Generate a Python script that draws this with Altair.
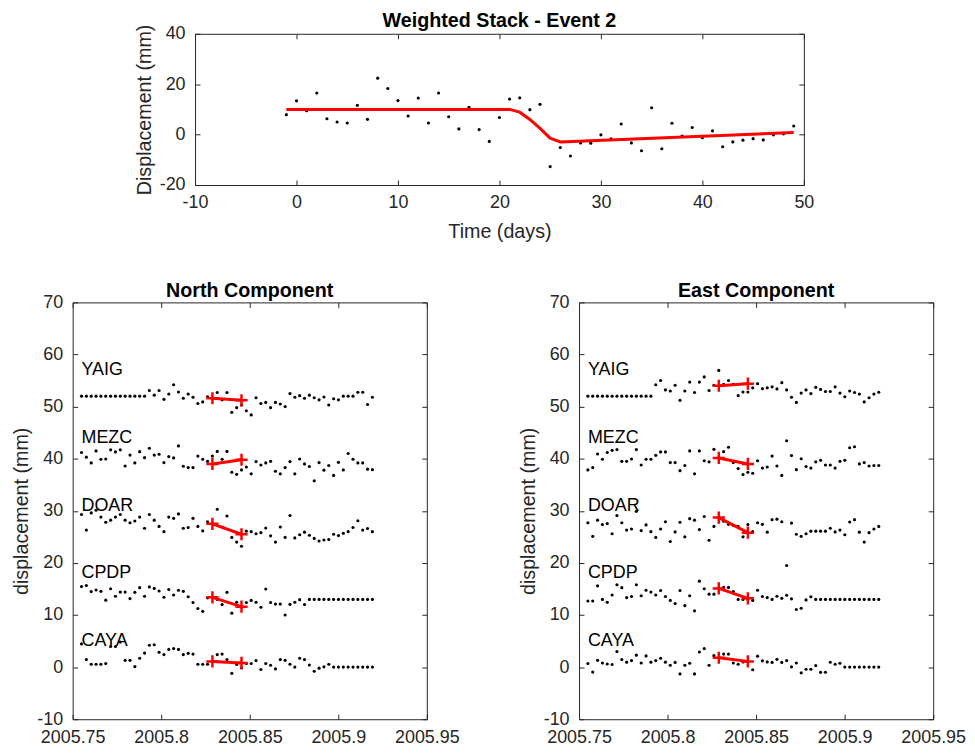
import altair as alt
import pandas as pd

FONT = "Liberation Sans"
AXC = "#262626"

# ---------------- data: weighted stack (top panel) ----------------
stack_days = list(range(-1, 50))
stack_vals = [7.9, 13.4, 9.5, 16.5, 6.3, 5.0, 4.6, 11.6, 6.05, 22.4,
              18.3, 13.5, 7.4, 14.5, 4.6, 16.5, 7.1, 2.25, 10.8, 2.0,
              -2.7, 6.8, 14.1, 14.6, 9.9, 12.0, -12.7, -5.1, -8.5, -3.3,
              -3.4, -0.1, -1.7, 4.2, -3.3, -6.4, 10.65, -5.6, 4.5, -0.6,
              2.8, -1.2, 1.5, -4.8, -2.9, -2.2, -1.6, -2.1, -0.1, 0.3, 3.4]
model_days = [-1, 21, 22, 23, 24, 25, 26, 49]
model_vals = [10.0, 10.0, 8.9, 6.0, 2.5, -1.4, -2.9, 0.8]

# ---------------- data: station time series (bottom panels) ----------------
stations = ["YAIG", "MEZC", "DOAR", "CPDP", "CAYA"]
label_y = [57, 44, 31, 18, 5]
start_year = 2005.755

north = {
    "YAIG": [52.0, 52.0, 52.0, 52.0, 52.0, 52.0, 52.0, 52.0, 52.0, 52.0,
             52.0, 52.0, 52.0, 52.0, 53.1, 52.2, 53.1, 51.4, 52.4, 54.2,
             52.8, 51.6, 52.4, 51.8, 50.6, 50.9, 51.9, 51.5, 52.7, 51.3,
             52.7, 48.9, 49.8, 50.3, 49.2, 48.4, 51.7, 50.6, 50.8, 49.8,
             50.8, 50.5, 50.0, 52.5, 51.8, 52.1, 51.6, 52.2, 51.7, 51.3,
             51.85, 50.3, 51.5, 51.3, 52.0, 52.0, 52.0, 52.75, 52.75, 50.4,
             51.8],
    "MEZC": [41.2, 40.3, 39.2, 41.5, 39.9, 39.95, 41.7, 41.3, 41.7, 38.6,
             40.7, 39.2, 41.35, 40.2, 42.0, 40.7, 40.85, 39.25, 40.4, 40.15,
             42.45, 38.55, 38.3, 38.3, 40.5, 39.9, 39.5, 40.5, 41.4, 39.9,
             41.4, 37.4, 37.0, 37.85, 38.4, 37.1, 39.45, 38.8, 39.2, 39.5,
             37.6, 37.1, 38.3, 39.45, 37.1, 39.95, 39.0, 38.5, 35.75, 39.25,
             37.8, 38.7, 36.8, 39.3, 37.85, 41.0, 39.9, 39.2, 39.2, 38.0,
             37.9],
    "DOAR": [29.3, 26.3, 29.6, 30.1, 28.8, 27.8, 28.2, 28.8, 29.3, 28.2,
             27.7, 28.05, 28.8, 26.65, 29.3, 28.2, 27.0, 26.0, 28.8, 28.55,
             29.4, 26.65, 26.8, 28.55, 27.0, 26.15, 27.9, 27.5, 30.3, 26.9,
             29.0, 24.9, 24.0, 23.2, 26.1, 26.0, 25.6, 25.8, 26.7, 25.2,
             24.0, 26.9, 24.9, 29.1, 24.8, 25.4, 25.9, 25.3, 24.7, 24.2,
             24.4, 24.5, 25.5, 25.25, 25.7, 26.0, 26.8, 28.1, 26.3, 26.6,
             26.0],
    "CPDP": [15.45, 15.65, 14.5, 14.8, 14.55, 12.85, 15.05, 13.6, 14.4, 14.4,
             13.15, 14.35, 15.25, 13.6, 15.4, 15.1, 14.6, 13.4, 14.9, 13.85,
             14.75, 14.55, 13.5, 12.4, 11.25, 10.7, 13.3, 13.4, 13.0, 12.0,
             14.35, 10.35, 12.45, 11.5, 12.4, 12.8, 12.45, 11.5, 15.0, 12.4,
             12.1, 12.1, 10.0, 12.05, 12.45, 12.95, 12.0, 13.0, 13.0, 13.0,
             13.0, 13.0, 13.0, 13.0, 13.0, 13.0, 13.0, 13.0, 13.0, 13.0,
             13.0],
    "CAYA": [4.45, 1.45, 0.55, 0.55, 0.55, 0.7, 3.95, 3.95, 4.8, 1.3,
             1.3, 0.1, 1.7, 2.7, 4.2, 4.3, 2.85, 2.4, 3.4, 3.55,
             3.4, 2.4, 2.65, 2.5, 0.55, 0.55, 0.55, 1.1, 2.4, 2.5,
             1.45, -1.2, 0.5, -0.15, 0.7, 0.7, 1.25, -0.45, 0.7, 0.35,
             -0.35, 1.45, 1.3, 0.55, 0.0, 1.7, 1.45, 0.4, -0.8, -0.2,
             0.05, 0.55, 0.0, 0.0, 0.0, 0.0, 0.0, 0.0, 0.0, 0.0,
             0.0],
}

east = {
    "YAIG": [52.0, 52.0, 52.0, 52.0, 52.0, 52.0, 52.0, 52.0, 52.0, 52.0,
             52.0, 52.0, 52.0, 52.0, 54.2, 55.0, 53.2, 53.0, 54.1, 51.2,
             53.0, 54.7, 52.7, 54.7, 55.7, 53.1, 54.1, 56.95, 54.3, 55.0,
             54.3, 52.1, 52.8, 52.8, 53.6, 54.4, 53.45, 53.6, 53.8, 53.4,
             54.6, 53.2, 51.8, 50.8, 52.6, 53.2, 52.5, 53.7, 53.3, 52.9,
             52.9, 53.8, 52.6, 51.9, 53.0, 52.7, 52.4, 50.9, 51.7, 52.4,
             52.75],
    "MEZC": [37.85, 38.3, 40.9, 39.9, 41.2, 41.6, 41.75, 39.5, 39.5, 39.95,
             41.75, 38.8, 39.9, 39.9, 40.65, 41.3, 41.3, 39.25, 39.25, 37.7,
             38.7, 41.5, 37.1, 41.5, 39.6, 39.4, 41.8, 40.15, 41.35, 42.2,
             39.25, 38.1, 36.95, 37.4, 37.2, 39.6, 38.2, 38.4, 40.5, 38.6,
             36.8, 43.45, 40.6, 37.9, 40.0, 38.5, 38.2, 39.4, 39.7, 38.8,
             38.8, 38.2, 39.5, 39.7, 42.1, 42.3, 39.0, 39.25, 38.6, 38.7,
             38.7],
    "DOAR": [27.7, 25.1, 28.2, 27.35, 27.55, 25.6, 29.1, 27.7, 26.3, 26.5,
             29.9, 26.2, 27.3, 26.0, 24.9, 26.5, 27.9, 24.1, 25.95, 27.8,
             25.0, 28.5, 28.2, 26.4, 28.9, 24.35, 27.0, 28.7, 28.0, 27.4,
             27.2, 27.0, 25.0, 27.35, 26.0, 27.7, 27.4, 25.9, 28.3, 28.4,
             27.9, 19.5, 27.65, 25.5, 25.1, 25.6, 26.1, 26.1, 26.1, 26.1,
             26.65, 25.95, 26.3, 25.4, 27.85, 28.3, 25.9, 24.0, 25.8, 26.5,
             27.0],
    "CPDP": [12.7, 12.7, 15.6, 13.0, 12.45, 13.85, 15.8, 15.25, 13.35, 13.55,
             15.8, 13.7, 14.75, 14.4, 13.85, 14.7, 13.55, 12.8, 12.2, 14.7,
             11.8, 13.7, 10.8, 16.5, 15.05, 14.0, 14.0, 15.1, 15.3, 15.3,
             14.5, 13.0, 13.0, 13.0, 12.8, 14.75, 13.55, 13.35, 13.0, 13.6,
             13.2, 13.8, 13.1, 11.05, 11.3, 12.9, 13.5, 13.0, 13.0, 13.0,
             13.0, 13.0, 13.0, 13.0, 13.0, 13.0, 13.0, 13.0, 13.0, 13.0,
             13.0],
    "CAYA": [0.7, -0.95, 1.3, 0.8, 0.6, 0.5, 3.0, 1.45, 0.95, 1.25,
             2.3, 0.8, 2.15, 0.95, 1.25, 1.7, 0.95, 0.35, 0.9, -1.3,
             0.35, 0.75, -1.3, 2.9, 3.55, 0.35, 2.2, 1.8, 2.5, 2.5,
             0.8, 0.55, 1.0, 1.1, -0.5, 2.1, 1.2, 1.0, 0.9, 1.5,
             0.9, 1.25, 0.05, 0.8, -1.1, -0.4, -0.4, 0.3, -1.0, -0.98,
             0.93, 0.55, 0.74, 0.0, 0.0, 0.0, 0.0, 0.0, 0.0, 0.0,
             0.0],
}

cross_days = [27, 33]
north_cross = {"YAIG": [51.6, 51.2], "MEZC": [39.0, 39.8], "DOAR": [27.5, 25.5],
               "CPDP": [13.4, 11.6], "CAYA": [1.1, 0.8]}
east_cross = {"YAIG": [54.0, 54.4], "MEZC": [40.15, 39.0], "DOAR": [28.7, 25.8],
              "CPDP": [15.1, 13.2], "CAYA": [1.8, 1.1]}

x_ticks_bottom = [2005.75, 2005.8, 2005.85, 2005.9, 2005.95]
y_ticks_bottom = [-10, 0, 10, 20, 30, 40, 50, 60, 70]
x_ticks_top = [-10, 0, 10, 20, 30, 40, 50]
y_ticks_top = [-20, 0, 20, 40]

# ---------------- styling helpers ----------------
LBL = "'' + datum.value"
MAIN = dict(tickSize=5, offset=-5, domain=False, grid=False, ticks=True,
            labelFlush=False, labelOverlap=False)
MIRROR = dict(tickSize=5, offset=-5, domain=False, grid=False, ticks=True, labels=False, title=None)
CROSS = "M-1,0L1,0M0,-1L0,1"
DOT = 10


def panel(title, series, crosses):
    rows = []
    for s in stations:
        for i, v in enumerate(series[s]):
            rows.append({"t": start_year + i / 365.25, "v": v, "s": s})
    df = pd.DataFrame(rows)
    crows = []
    for s in stations:
        for d, v in zip(cross_days, crosses[s]):
            crows.append({"t": start_year + d / 365.25, "v": v, "s": s})
    cdf = pd.DataFrame(crows)
    ldf = pd.DataFrame({"t": [start_year] * len(stations), "v": label_y, "s": stations})

    xs = alt.Scale(domain=[2005.75, 2005.95], nice=False, zero=False)
    ys = alt.Scale(domain=[-10, 70], nice=False, zero=False)

    dots = alt.Chart(df).mark_circle(size=DOT, color="black", opacity=1).encode(
        x=alt.X("t:Q", scale=xs, axis=alt.Axis(orient="bottom", values=x_ticks_bottom, labelExpr=LBL,
                                                title=None, labelPadding=9, **MAIN)),
        y=alt.Y("v:Q", scale=ys, axis=alt.Axis(orient="left", values=y_ticks_bottom, labelExpr=LBL,
                                                title="displacement (mm)", labelPadding=10,
                                                titlePadding=5, **MAIN)),
    )
    labels = alt.Chart(ldf).mark_text(align="left", baseline="middle", font=FONT, fontSize=18,
                                      color="black").encode(
        x=alt.X("t:Q", scale=xs, axis=None),
        y=alt.Y("v:Q", scale=ys, axis=None),
        text="s:N",
    )
    segs = alt.Chart(cdf).mark_line(color="red", strokeWidth=3).encode(
        x=alt.X("t:Q", scale=xs, axis=alt.Axis(orient="top", values=x_ticks_bottom, **MIRROR)),
        y=alt.Y("v:Q", scale=ys, axis=alt.Axis(orient="right", values=y_ticks_bottom, **MIRROR)),
        detail="s:N",
    )
    marks = alt.Chart(cdf).mark_point(shape=CROSS, size=150, filled=False, color="red",
                                      strokeWidth=2.5, opacity=1).encode(
        x=alt.X("t:Q", scale=xs, axis=None),
        y=alt.Y("v:Q", scale=ys, axis=None),
    )
    return alt.layer(dots, labels, segs, marks).resolve_axis(
        x="independent", y="independent").properties(width=356, height=419, title=title)


# ---------------- top panel ----------------
sdf = pd.DataFrame({"d": stack_days, "v": stack_vals})
mdf = pd.DataFrame({"d": model_days, "v": model_vals})
txs = alt.Scale(domain=[-10, 50], nice=False, zero=False)
tys = alt.Scale(domain=[-20, 40], nice=False, zero=False)

top_dots = alt.Chart(sdf).mark_circle(size=DOT, color="black", opacity=1).encode(
    x=alt.X("d:Q", scale=txs, axis=alt.Axis(orient="bottom", values=x_ticks_top, labelExpr=LBL,
                                             title="Time (days)", labelPadding=9, titlePadding=10, **MAIN)),
    y=alt.Y("v:Q", scale=tys, axis=alt.Axis(orient="left", values=y_ticks_top, labelExpr=LBL,
                                             title="Displacement (mm)", labelPadding=10,
                                             titlePadding=5, **MAIN)),
)
top_line = alt.Chart(mdf).mark_line(color="red", strokeWidth=3).encode(
    x=alt.X("d:Q", scale=txs, axis=alt.Axis(orient="top", values=x_ticks_top, **MIRROR)),
    y=alt.Y("v:Q", scale=tys, axis=alt.Axis(orient="right", values=y_ticks_top, **MIRROR)),
)
top = alt.layer(top_dots, top_line).resolve_axis(x="independent", y="independent").properties(
    width=612, height=152, title="Weighted Stack - Event 2")

spacer = alt.Chart(pd.DataFrame({"z": [0]})).mark_point(opacity=0).encode(
    x=alt.X("z:Q", axis=None), y=alt.Y("z:Q", axis=None)
).properties(width=1, height=152, view=alt.ViewBackground(strokeOpacity=0))

top_row = alt.hconcat(spacer, top, spacing=122, bounds="flush")
bottom_row = alt.hconcat(panel("North Component", north, north_cross),
                         panel("East Component", east, east_cross),
                         spacing=153, bounds="flush")

chart = alt.vconcat(top_row, bottom_row, spacing=37).configure_axis(
    labelFont=FONT, labelFontSize=18, labelColor=AXC,
    titleFont=FONT, titleFontSize=19.8, titleFontWeight="normal", titleColor=AXC,
    tickColor=AXC, tickWidth=1,
).configure_view(stroke=AXC, strokeWidth=1).configure_title(
    font=FONT, fontSize=19.8, fontWeight="bold", color="black", offset=-7
).properties(padding={"left": 3, "top": 0, "right": 0, "bottom": 0})

chart.save("out.html", embed_options={"renderer": "svg", "actions": False})
